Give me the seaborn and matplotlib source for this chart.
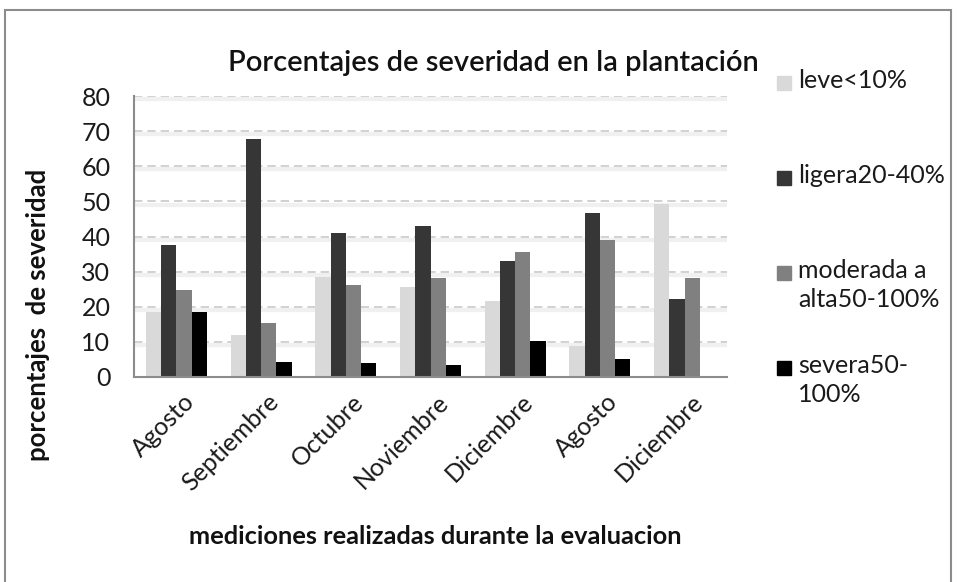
import matplotlib
matplotlib.use("Agg")
import matplotlib.pyplot as plt
from matplotlib.patches import Rectangle
from matplotlib.transforms import ScaledTranslation
import seaborn as sns
import pandas as pd

# ---- data ----
meses = ["Agosto", "Septiembre", "Octubre", "Noviembre", "Diciembre", "Agosto", "Diciembre"]
series = ["leve<10%", "ligera20-40%", "moderada a\nalta50-100%", "severa50-\n100%"]
leve = [18.6, 11.9, 28.4, 25.6, 21.6, 8.8, 49.3]
ligera = [37.5, 67.9, 41.1, 43.1, 32.9, 46.7, 22.3]
moderada = [24.7, 15.3, 26.3, 28.1, 35.5, 39.1, 28.1]
severa = [18.6, 4.4, 4.0, 3.3, 10.2, 5.1, 0.0]
yticks = [0, 10, 20, 30, 40, 50, 60, 70, 80]
titulo = "Porcentajes de severidad en la plantación"
xlab = "mediciones realizadas durante la evaluacion"
ylab = "porcentajes  de severidad"

colores = ["#d9d9d9", "#363636", "#808080", "#000000"]

rows = []
for serie, vals in zip(series, [leve, ligera, moderada, severa]):
    for i, v in enumerate(vals):
        rows.append({"medicion": i, "valor": v, "serie": serie})
df = pd.DataFrame(rows)

sns.set_style("white")
plt.rcParams["font.family"] = ["Lato", "DejaVu Sans"]

W, H = 957, 582
fig = plt.figure(figsize=(W / 100, H / 100), dpi=100)
ax = fig.add_axes([134 / W, 1 - 377 / H, (727 - 134) / W, (377 - 96) / H])

sns.barplot(data=df, x="medicion", y="valor", hue="serie", hue_order=series,
            palette=colores, width=0.72, saturation=1, ax=ax, legend=False,
            errorbar=None, linewidth=0)

ax.set_ylim(0, 80)
ax.set_yticks(yticks)
ax.set_yticklabels([str(t) for t in yticks])
ax.set_xticks(range(len(meses)))
ax.set_xticklabels(meses)
ax.set_xlim(-0.5, len(meses) - 0.5)

for y in yticks[1:]:
    ax.axhline(y, color="#c8c8c8", lw=1.2, ls=(0, (5, 3)), zorder=0)
    ax.axhline(y - 0.9, color="#f0f0f0", lw=3, zorder=0)
ax.set_axisbelow(True)
ax.grid(False)

for s in ["top", "right"]:
    ax.spines[s].set_visible(False)
for s in ["left", "bottom"]:
    ax.spines[s].set_color("#8c8c8c")
    ax.spines[s].set_linewidth(1.5)

ax.tick_params(axis="both", length=0, labelsize=18, colors="#1a1a1a")
ax.tick_params(axis="y", pad=17)
off = ScaledTranslation(6 / 100, -8 / 100, fig.dpi_scale_trans)
for lab in ax.get_xticklabels():
    lab.set_rotation(45)
    lab.set_ha("right")
    lab.set_va("top")
    lab.set_rotation_mode("anchor")
    lab.set_transform(lab.get_transform() + off)

ax.set_xlabel(xlab, fontsize=18.3, fontweight="bold", color="#111111")
ax.xaxis.set_label_coords((435 - 134) / 593, -(537 - 377) / 281)
ax.xaxis.label.set_va("center")
ax.set_ylabel(ylab, fontsize=18.5, fontweight="bold", color="#111111")
ax.yaxis.set_label_coords((38 - 134) / 593, (377 - 315) / 281)
ax.yaxis.label.set_va("center")
ax.yaxis.label.set_ha("center")

fig.text(493 / W, 1 - 63 / H, titulo, ha="center", va="center", fontsize=21,
         fontweight="semibold", color="#111111")

# manual legend (Excel-like even spacing)
for i, (lab, col) in enumerate(zip(series, colores)):
    yc = 83 + 95 * i
    fig.patches.append(Rectangle((777 / W, 1 - (yc + 7) / H), 14 / W, 14 / H,
                                 transform=fig.transFigure, color=col))
    fig.text(798 / W, 1 - (yc - 14) / H, lab, ha="left", va="top", fontsize=18,
             color="#1a1a1a", linespacing=1.3)

# outer chart border
fig.patches.append(Rectangle((5 / W, -0.05), 946 / W, 1.05 - 10 / H, transform=fig.transFigure,
                             fill=False, edgecolor="#8c8c8c", lw=1.5))

fig.savefig("out.png", dpi=100, facecolor="white")
